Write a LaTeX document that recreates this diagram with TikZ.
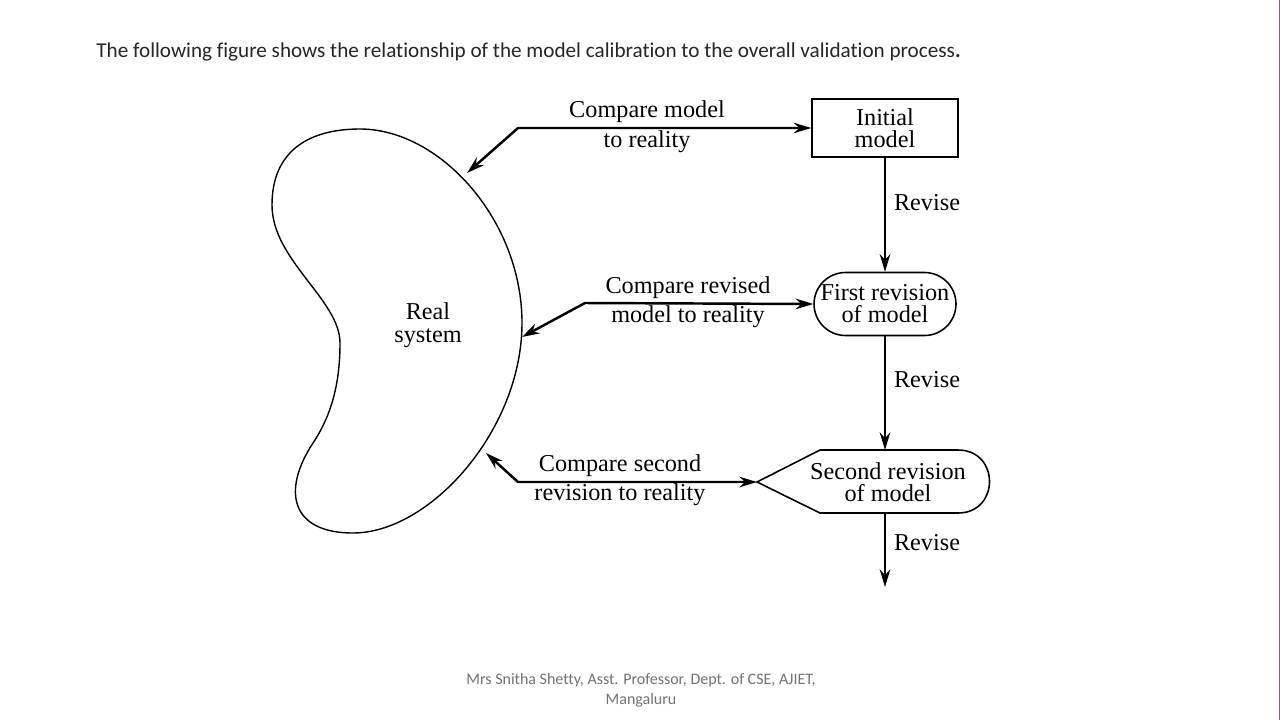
\documentclass[tikz,border=0pt]{standalone}
\usepackage{fontspec}
\setmainfont{Liberation Serif}
\newfontfamily\slidefont[Ligatures=NoCommon]{Carlito}
\usetikzlibrary{arrows.meta,shapes.misc}
\tikzset{
	tip/.tip={Stealth[length=10pt,width=6pt]},
	flow/.style={line width=1.4pt, -tip},
	twoway/.style={line width=1.4pt, tip-tip},
	lbl/.style={font=\fontsize{13.8}{13}\selectfont, inner sep=0pt},
	modelbox/.style={draw, line width=0.9pt, align=center, inner sep=0pt,
		font=\fontsize{13.8}{12.5}\selectfont},
}
\begin{document}
\begin{tikzpicture}[x=0.02cm, y=-0.02cm]
		\fill[white] (0, 0) rectangle (1280, 720);
		\useasboundingbox (0, 0) rectangle (1280, 720);
		\draw[violet!70, line width=0.5pt] (1279, 0) -- (1279, 720);
		\node[anchor=west, inner sep=0pt, font=\slidefont\fontsize{12.05}{14}\selectfont, text=black!85] (title) at (96, 52)
			{The following figure shows the relationship of the model calibration to the overall validation process\textbf{.}};
		% real system
		\draw[line width=0.8pt] (360, 129) .. controls (440, 129) and (522, 220) .. (522, 323)
			.. controls (522, 430) and (430, 533) .. (353, 533)
			.. controls (290, 533) and (282, 490) .. (313, 443)
			.. controls (333, 413) and (340, 380) .. (340, 343)
			.. controls (340, 300) and (272, 260) .. (272, 205)
			.. controls (272, 150) and (310, 129) .. (360, 129) -- cycle;
		\node[lbl, align=center, font=\fontsize{13.8}{13}\selectfont] (real) at (428, 325) {Real\\system};
		% models
		\node[modelbox, minimum width=2.92cm, minimum height=1.16cm] (init) at (885, 128) {Initial\\model};
		\node[modelbox, rounded rectangle, minimum width=2.84cm, minimum height=1.26cm] (first) at (885, 304) {First revision\\of model};
		\draw[line width=0.9pt] (757, 482) -- (820, 450) -- (958, 450)
			.. controls (1000, 450) and (1000, 513) .. (958, 513) -- (820, 513) -- cycle;
		\node[lbl, align=center, font=\fontsize{13.8}{12.5}\selectfont] (second) at (888, 482) {Second revision\\of model};
		\coordinate (sectip) at (757, 482);
		\coordinate (sectop) at (885, 450);
		\coordinate (secbot) at (885, 513);
		\coordinate (last) at (885, 587);
		% compare arrows
		\coordinate (b1) at (467, 173);
		\coordinate (b2) at (522, 337);
		\coordinate (b3) at (486, 453);
		\coordinate (k1) at (518, 128);
		\coordinate (k2) at (585, 303);
		\coordinate (k3) at (518, 482);
		\draw[twoway] (b1) -- (k1) -- (init.west);
		\draw[twoway] (b2) -- (k2) -- (first.west);
		\draw[twoway] (b3) -- (k3) -- (sectip);
		\node[lbl] (c1a) at (647, 112) {Compare model};
		\node[lbl] (c1b) at (647, 142) {to reality};
		\node[lbl] (c2a) at (688, 288) {Compare revised};
		\node[lbl] (c2b) at (688, 317) {model to reality};
		\node[lbl] (c3a) at (620, 466) {Compare second};
		\node[lbl] (c3b) at (620, 495) {revision to reality};
		% revise arrows
		\draw[flow] (init.south) -- (first.north);
		\draw[flow] (first.south) -- (sectop);
		\draw[flow] (secbot) -- (last);
		\foreach \y/\n in {203/r1, 380/r2, 543/r3}{
			\node[lbl] (\n) at (927, \y) {Revise};
		}
		% footer
		\node[align=center, inner sep=0pt, font=\slidefont\fontsize{9.1}{11.3}\selectfont, text=black!55] (foot) at (641, 690)
			{Mrs Snitha Shetty, Asst. Professor, Dept. of CSE, AJIET,\\Mangaluru};
	\end{tikzpicture}
\end{document}
